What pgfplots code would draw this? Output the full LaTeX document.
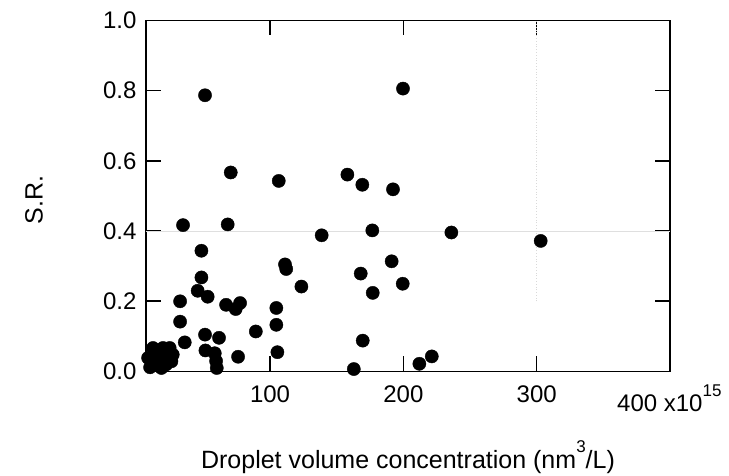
\documentclass[border=0pt]{standalone}
\usepackage{pgfplots}
\pgfplotsset{compat=1.18}
\usepackage{fontspec}
\setmainfont{Liberation Sans}
\newcommand{\supr}[1]{\raisebox{0.62em}{\fontsize{17bp}{17bp}\selectfont #1}}
\begin{document}
\fontsize{24bp}{28bp}\selectfont
\begin{tikzpicture}
\path[use as bounding box] (-145.7bp,-104.5bp) rectangle (583.3bp,371.5bp);
\begin{axis}[
  at={(0,0)}, anchor=south west,
  scale only axis,
  width=524.3bp, height=351bp,
  xmin=6.7, xmax=400, ymin=0, ymax=1.0,
  xtick={100,200,300}, ytick={0,0.2,0.4,0.6,0.8,1.0},
  yticklabel style={/pgf/number format/fixed,/pgf/number format/zerofill,/pgf/number format/precision=1},
  /pgf/number format/assume math mode=true,
  tick label style={font=\fontsize{24bp}{28bp}\selectfont},
  xticklabel style={yshift=-6bp},
  yticklabel style={xshift=-1bp},
  tick align=inside,
  major tick length=15bp,
  axis line style={line width=1.6bp},
  every tick/.style={black, line width=1.6bp},
  clip=false,
]
\addplot[gray!25, line width=0.8bp, forget plot] coordinates {(6.7,0.4) (400,0.4)};
\addplot[gray!30, line width=0.8bp, dotted, forget plot] coordinates {(300,0.2) (300,1.0)};
\addplot[only marks, mark=*, mark size=6.6bp, black] coordinates {
(51.2,0.787) (199.7,0.806) (70.5,0.567) (106.5,0.543) (158,0.561) (169.2,0.532)
(192.2,0.519) (34.7,0.417) (68.2,0.419) (138.7,0.388) (176.7,0.402) (236,0.396)
(303,0.372) (48.5,0.344) (111.2,0.305) (112.1,0.292) (191.2,0.314) (168,0.279)
(48.5,0.268) (199.5,0.250) (123.5,0.242) (45.7,0.230) (177,0.224) (53.2,0.213)
(32.5,0.200) (67,0.190) (74.2,0.178) (77.5,0.195) (104.7,0.181) (32.5,0.142)
(104.7,0.133) (89.3,0.114) (51.2,0.105) (61.7,0.096) (36,0.083) (169.5,0.088)
(51.5,0.060) (58.5,0.052) (76,0.042) (105.5,0.055) (221.3,0.043) (212,0.022)
(162.8,0.007) (59.5,0.030) (60,0.010)
(12.2,0.067) (19.7,0.067) (24.7,0.067) (8.5,0.039) (26,0.029) (18.5,0.010)
(13.5,0.024) (21,0.039) (10,0.012) (15,0.045) (22,0.020) (16,0.030) (27,0.048)
};
\end{axis}
\node[anchor=base west, inner sep=0pt] at (471.3bp,-40bp) {400 x10\supr{15}};
\node[rotate=90, inner sep=0pt, font=\fontsize{25bp}{30bp}\selectfont] at (-111.7bp,171.5bp) {S.R.};
\node[anchor=base, inner sep=0pt, font=\fontsize{25bp}{30bp}\selectfont] at (262.3bp,-96.5bp) {Droplet volume concentration (nm\supr{3}/L)};
\end{tikzpicture}
\end{document}
